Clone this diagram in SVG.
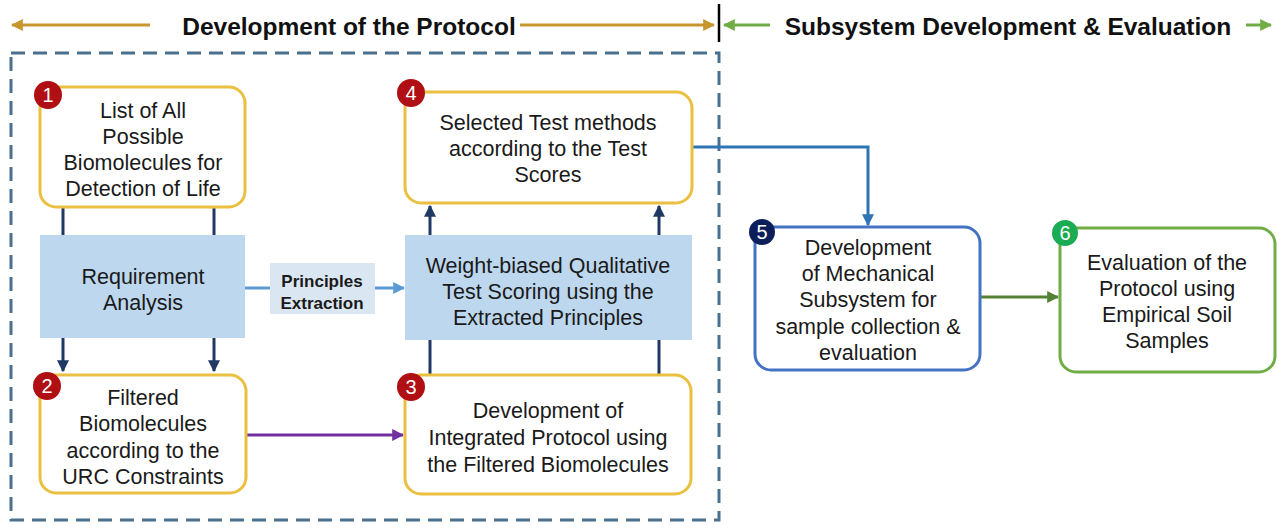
<svg xmlns="http://www.w3.org/2000/svg" width="1283" height="530" viewBox="0 0 1283 530">
<style>
.t{font-family:"Liberation Sans",Arial,sans-serif;font-size:21.5px;fill:#1a1a1a;text-anchor:middle}
.h{font-family:"Liberation Sans",Arial,sans-serif;font-size:24.5px;font-weight:bold;fill:#111;text-anchor:middle}
.pe{font-family:"Liberation Sans",Arial,sans-serif;font-size:17px;font-weight:bold;fill:#1a1a1a;text-anchor:middle}
.bn{font-family:"Liberation Sans",Arial,sans-serif;font-size:20px;fill:#fff;text-anchor:middle}
.y{fill:#fff;stroke:#ebc040;stroke-width:3}
.bl{fill:#bdd7ee}
.nv{stroke:#1f3864;stroke-width:3;fill:none}
</style>
<defs>
<marker id="aN" viewBox="0 0 10 10" refX="9" refY="5" markerWidth="4" markerHeight="4" orient="auto-start-reverse"><path d="M0,0L10,5L0,10z" fill="#1f3864"/></marker>
<marker id="aG" viewBox="0 0 10 10" refX="9" refY="5" markerWidth="4" markerHeight="4" orient="auto-start-reverse"><path d="M0,0L10,5L0,10z" fill="#c8962e"/></marker>
<marker id="aGr" viewBox="0 0 10 10" refX="9" refY="5" markerWidth="4" markerHeight="4" orient="auto-start-reverse"><path d="M0,0L10,5L0,10z" fill="#70ad47"/></marker>
<marker id="aLB" viewBox="0 0 10 10" refX="9" refY="5" markerWidth="4" markerHeight="4" orient="auto"><path d="M0,0L10,5L0,10z" fill="#5b9bd5"/></marker>
<marker id="aB" viewBox="0 0 10 10" refX="9" refY="5" markerWidth="4" markerHeight="4" orient="auto"><path d="M0,0L10,5L0,10z" fill="#2e75b6"/></marker>
<marker id="aP" viewBox="0 0 10 10" refX="9" refY="5" markerWidth="4" markerHeight="4" orient="auto"><path d="M0,0L10,5L0,10z" fill="#7030a0"/></marker>
<marker id="aDG" viewBox="0 0 10 10" refX="9" refY="5" markerWidth="4" markerHeight="4" orient="auto"><path d="M0,0L10,5L0,10z" fill="#548235"/></marker>
</defs>
<rect width="1283" height="530" fill="#fff"/>

<g id="header">
<line x1="12" y1="25" x2="150" y2="25" stroke="#c8962e" stroke-width="3" marker-start="url(#aG)"/>
<text class="h" x="349" y="35">Development of the Protocol</text>
<line x1="520" y1="25" x2="714" y2="25" stroke="#c8962e" stroke-width="3" marker-end="url(#aG)"/>
<line x1="719" y1="4" x2="719" y2="42" stroke="#000" stroke-width="2.5"/>
<line x1="724" y1="25" x2="770" y2="25" stroke="#70ad47" stroke-width="3" marker-start="url(#aGr)"/>
<text class="h" x="1008" y="35">Subsystem Development &amp; Evaluation</text>
<line x1="1246" y1="25" x2="1271" y2="25" stroke="#70ad47" stroke-width="3" marker-end="url(#aGr)"/>
</g>

<rect id="frame" x="11" y="53" width="708" height="467" fill="none" stroke="#4a7090" stroke-width="3" stroke-dasharray="14 8"/>

<g id="connectors">
<line class="nv" x1="63" y1="207" x2="63" y2="236"/>
<line class="nv" x1="214" y1="207" x2="214" y2="236"/>
<line class="nv" x1="63" y1="338" x2="63" y2="371" marker-end="url(#aN)"/>
<line class="nv" x1="214" y1="338" x2="214" y2="371" marker-end="url(#aN)"/>
<line x1="245" y1="288" x2="270" y2="288" stroke="#5b9bd5" stroke-width="3"/>
<line x1="375" y1="288" x2="404" y2="288" stroke="#5b9bd5" stroke-width="3" marker-end="url(#aLB)"/>
<line class="nv" x1="430" y1="236" x2="430" y2="206" marker-end="url(#aN)"/>
<line class="nv" x1="659" y1="236" x2="659" y2="206" marker-end="url(#aN)"/>
<line class="nv" x1="430" y1="340" x2="430" y2="376"/>
<line class="nv" x1="659" y1="340" x2="659" y2="376"/>
<line x1="246" y1="435" x2="403" y2="435" stroke="#7030a0" stroke-width="3" marker-end="url(#aP)"/>
<polyline points="692,147 868,147 868,225" fill="none" stroke="#2e75b6" stroke-width="3" marker-end="url(#aB)"/>
<line x1="981" y1="297" x2="1058" y2="297" stroke="#548235" stroke-width="3" marker-end="url(#aDG)"/>
</g>

<g id="n1">
<rect class="y" x="40" y="87" width="205" height="120" rx="16"/>
<circle cx="48" cy="95" r="14" fill="#b00f14"/><text class="bn" x="48" y="102">1</text>
<text class="t" x="143" y="118">List of All</text>
<text class="t" x="143" y="144">Possible</text>
<text class="t" x="143" y="170">Biomolecules for</text>
<text class="t" x="143" y="196">Detection of Life</text>
</g>

<g id="ra">
<rect class="bl" x="40" y="235" width="205" height="103"/>
<text class="t" x="143" y="284">Requirement</text>
<text class="t" x="143" y="310">Analysis</text>
</g>

<g id="pe">
<rect x="270" y="263" width="105" height="51" fill="#dae6f2"/>
<text class="pe" x="322" y="287">Principles</text>
<text class="pe" x="322" y="309">Extraction</text>
</g>

<g id="n2">
<rect class="y" x="40" y="375" width="206" height="118" rx="16"/>
<circle cx="47" cy="386" r="14" fill="#b00f14"/><text class="bn" x="47" y="393">2</text>
<text class="t" x="143" y="405">Filtered</text>
<text class="t" x="143" y="431">Biomolecules</text>
<text class="t" x="143" y="458">according to the</text>
<text class="t" x="143" y="484">URC Constraints</text>
</g>

<g id="wb">
<rect class="bl" x="405" y="235" width="287" height="105"/>
<text class="t" x="548" y="273">Weight-biased Qualitative</text>
<text class="t" x="548" y="299">Test Scoring using the</text>
<text class="t" x="548" y="325">Extracted Principles</text>
</g>

<g id="n4">
<rect class="y" x="405" y="92" width="287" height="111" rx="16"/>
<circle cx="411" cy="93" r="14" fill="#b00f14"/><text class="bn" x="411" y="100">4</text>
<text class="t" x="548" y="130">Selected Test methods</text>
<text class="t" x="548" y="156">according to the Test</text>
<text class="t" x="548" y="182">Scores</text>
</g>

<g id="n3">
<rect class="y" x="405" y="375" width="286" height="119" rx="16"/>
<circle cx="411" cy="387" r="14" fill="#b00f14"/><text class="bn" x="411" y="394">3</text>
<text class="t" x="548" y="418">Development of</text>
<text class="t" x="548" y="445">Integrated Protocol using</text>
<text class="t" x="548" y="472">the Filtered Biomolecules</text>
</g>

<g id="n5">
<rect x="755" y="227" width="225" height="143" rx="16" fill="#fff" stroke="#4472c4" stroke-width="3"/>
<circle cx="762" cy="232" r="13" fill="#0d1f5a"/><text class="bn" x="762" y="239">5</text>
<text class="t" x="868" y="255">Development</text>
<text class="t" x="868" y="281">of Mechanical</text>
<text class="t" x="868" y="307">Subsystem for</text>
<text class="t" x="868" y="334">sample collection &amp;</text>
<text class="t" x="868" y="360">evaluation</text>
</g>

<g id="n6">
<rect x="1060" y="228" width="215" height="144" rx="16" fill="#fff" stroke="#70ad47" stroke-width="3"/>
<circle cx="1065" cy="233" r="13" fill="#1aac52"/><text class="bn" x="1065" y="240">6</text>
<text class="t" x="1167" y="270">Evaluation of the</text>
<text class="t" x="1167" y="296">Protocol using</text>
<text class="t" x="1167" y="322">Empirical Soil</text>
<text class="t" x="1167" y="348">Samples</text>
</g>
</svg>
